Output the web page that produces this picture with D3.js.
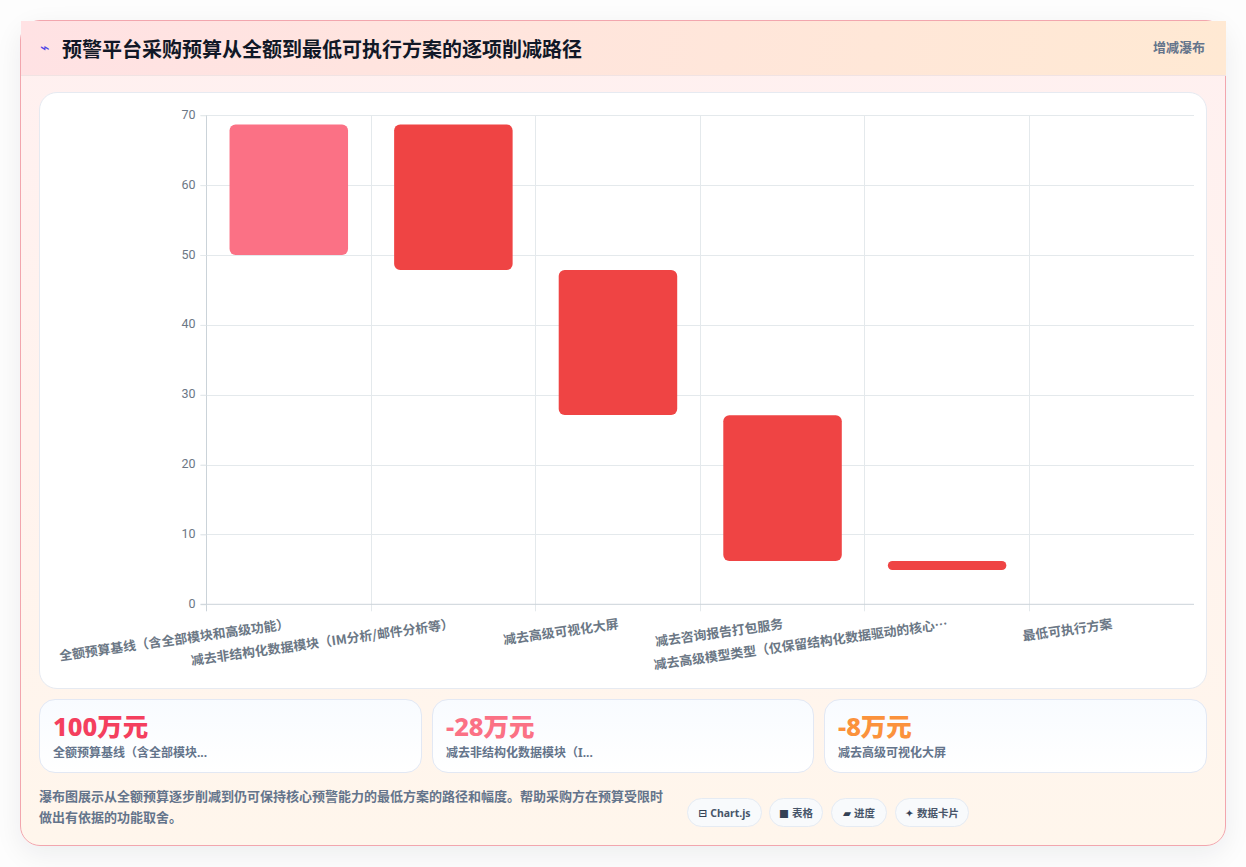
<!DOCTYPE html>
<html lang="zh-CN">
<head>
<meta charset="utf-8">
<title>预警平台采购预算瀑布图</title>
<script src="https://cdn.jsdelivr.net/npm/d3@7/dist/d3.min.js"></script>
<style>
  * { box-sizing: border-box; }
  html, body { margin: 0; width: 1246px; height: 867px; overflow: hidden; background: #fdfdfd; }
  body { font-family: "Noto Sans", "Noto Sans CJK SC", sans-serif; position: relative; }
  .panel { position: absolute; left: 20px; top: 20px; width: 1206px; height: 826px; border: 1px solid #f2a6ae; border-radius: 20px;
    background: linear-gradient(180deg, #fff0f0 0%, #fff6ec 100%); box-shadow: 0 8px 28px rgba(15,23,42,.07); }
  .head { position: absolute; left: 0; top: 0; width: 1205px; height: 55px; background: linear-gradient(100deg, #ffe2e4 0%, #ffe9d3 100%);
    border-bottom: 1px solid #f1e3e3; }
  .head .icon { position: absolute; left: 19px; top: 15px; font-size: 16px; color: #4f46e5; }
  .head h1 { position: absolute; left: 41px; top: 13px; margin: 0; font-size: 20px; line-height: 29px; font-weight: 700; color: #111827; white-space: nowrap; font-family: "Noto Sans CJK SC", sans-serif; }
  .head .kind { position: absolute; right: 21px; top: 17px; font-size: 13px; line-height: 19px; font-weight: 700; color: #64748b; }
  .plot { position: absolute; left: 18px; top: 71px; width: 1168px; height: 597px; background: #fff; border: 1px solid #e6eaf1; border-radius: 18px; }
  svg { position: absolute; left: 0; top: 0; }
  .stat { position: absolute; top: 678px; height: 74px; background: linear-gradient(180deg, #f8fbff, #fff); border: 1px solid #e2e8f4; border-radius: 16px; }
  .stat b { position: absolute; left: 13px; top: 8px; font-size: 25.5px; line-height: 36px; font-weight: 800; white-space: nowrap; }
  .stat span { position: absolute; left: 13px; top: 44px; font-size: 12px; line-height: 17px; font-weight: 700; color: #64748b; white-space: nowrap; }
  .note { position: absolute; left: 18px; top: 765px; width: 630px; font-size: 13px; line-height: 21px; font-weight: 700; color: #64748b; }
  .chip { position: absolute; top: 777px; height: 29px; line-height: 28px; background: #f8fafc; border: 1px solid #e5ebf3; border-radius: 15px;
    font-size: 10.5px; font-weight: 700; color: #475569; text-align: center; white-space: nowrap; }
  .chip i { font-style: normal; font-family: "DejaVu Sans", sans-serif; color: #334155; margin-right: 3px; }
</style>
</head>
<body>
<div class="panel">
  <div class="head">
    <span class="icon">⌁</span>
    <h1>预警平台采购预算从全额到最低可执行方案的逐项削减路径</h1>
    <span class="kind">增减瀑布</span>
  </div>
  <div class="plot"></div>
  <div id="stats"></div>
  <div class="note">瀑布图展示从全额预算逐步削减到仍可保持核心预警能力的最低方案的路径和幅度。帮助采购方在预算受限时做出有依据的功能取舍。</div>
  <div id="chips"></div>
</div>
<script>
// Waterfall steps: each bar spans from its low to its high value (万元 axis)
const categories = [
  "全额预算基线（含全部模块和高级功能）",
  "减去非结构化数据模块（IM分析/邮件分析等）",
  "减去高级可视化大屏",
  "减去咨询报告打包服务",
  "减去高级模型类型（仅保留结构化数据驱动的核心…",
  "最低可执行方案"
];
const barLow  = [50, 47.85, 27.1, 6.2, 4.9, 0];
const barHigh = [68.7, 68.7, 47.85, 27.05, 6.2, 0];
const barColors = ["#fb7185", "#ef4444", "#ef4444", "#ef4444", "#ef4444", "#ef4444"];
const yTicks = [0, 10, 20, 30, 40, 50, 60, 70];

const statValues = ["100万元", "-28万元", "-8万元"];
const statNames = ["全额预算基线（含全部模块...", "减去非结构化数据模块（I...", "减去高级可视化大屏"];
const statColors = ["#f43f5e", "#fb7185", "#fb923c"];
const statLefts = [18, 411, 803];
const statWidths = [383, 382, 383];

const chipIcons = ["⊟", "■", "▰", "✦"];
const chipLabels = ["Chart.js", "表格", "进度", "数据卡片"];
const chipLefts = [666, 748, 810, 874];
const chipWidths = [75, 54, 56, 74];

const stats = d3.select("#stats").selectAll("div").data(statValues).join("div")
  .attr("class", "stat")
  .style("left", (d, i) => statLefts[i] + "px")
  .style("width", (d, i) => statWidths[i] + "px");
stats.append("b").text(d => d).style("color", (d, i) => statColors[i]);
stats.append("span").text((d, i) => statNames[i]);

const chips = d3.select("#chips").selectAll("div").data(chipLabels).join("div")
  .attr("class", "chip")
  .style("left", (d, i) => chipLefts[i] + "px")
  .style("width", (d, i) => chipWidths[i] + "px");
chips.append("i").text((d, i) => chipIcons[i]);
chips.append("span").text(d => d);

// Plot frame in page pixels
const frame = { left: 206.5, right: 1194, top: 115.3, bottom: 604.3 };
const svg = d3.select("body").append("svg").attr("width", 1246).attr("height", 867);

const x = d3.scaleBand().domain(categories).range([frame.left, frame.right]).paddingInner(0).paddingOuter(0);
const y = d3.scaleLinear().domain([0, 70]).range([frame.bottom, frame.top]);
const barWidth = x.bandwidth() * 0.72;

// Grid lines sit on band edges and on every y tick
const grid = svg.append("g").attr("stroke", "#e4e9ec").attr("stroke-width", 1);
grid.selectAll("line.h").data(yTicks.slice(1)).join("line").attr("class", "h")
  .attr("x1", frame.left - 6).attr("x2", frame.right)
  .attr("y1", d => Math.round(y(d)) + .5).attr("y2", d => Math.round(y(d)) + .5);
grid.selectAll("line.v").data(categories.slice(1)).join("line").attr("class", "v")
  .attr("x1", d => Math.floor(x(d)) + .5).attr("x2", d => Math.floor(x(d)) + .5)
  .attr("y1", frame.top).attr("y2", frame.bottom + 7);

// Axes
const yAxis = svg.append("g").attr("transform", `translate(${frame.left},0)`)
  .call(d3.axisLeft(y).tickValues(yTicks).tickSize(6).tickPadding(5));
yAxis.selectAll("text").attr("font-family", "Roboto, 'Liberation Sans', sans-serif").attr("font-size", 12.5).attr("fill", "#6b7785").attr("y", -1);
yAxis.selectAll("line").attr("stroke", "#e4e9ec");
yAxis.select(".domain").attr("stroke", "#cbd3d9").attr("d", `M0,${frame.top}V${frame.bottom + 7}`);

const xAxis = svg.append("g").attr("transform", `translate(0,${frame.bottom})`)
  .call(d3.axisBottom(x).tickSize(0).tickPadding(0));
xAxis.select(".domain").attr("stroke", "#cbd3d9").attr("d", `M${frame.left - 6},0H${frame.right}`);
xAxis.selectAll(".tick text")
  .attr("font-family", "'Noto Sans CJK SC', sans-serif").attr("font-size", 12.9).attr("font-weight", 700).attr("fill", "#6b7785")
  .attr("text-anchor", "end").attr("y", 0).attr("dy", 0)
  .attr("transform", "translate(1,24) rotate(-8)");

// Waterfall bars
svg.append("g").selectAll("rect").data(categories).join("rect")
  .attr("x", d => x(d) + (x.bandwidth() - barWidth) / 2)
  .attr("width", barWidth)
  .attr("y", (d, i) => y(barHigh[i]))
  .attr("height", (d, i) => y(barLow[i]) - y(barHigh[i]))
  .attr("rx", (d, i) => Math.min(6, (y(barLow[i]) - y(barHigh[i])) / 2))
  .attr("fill", (d, i) => barColors[i]);
</script>
</body>
</html>
